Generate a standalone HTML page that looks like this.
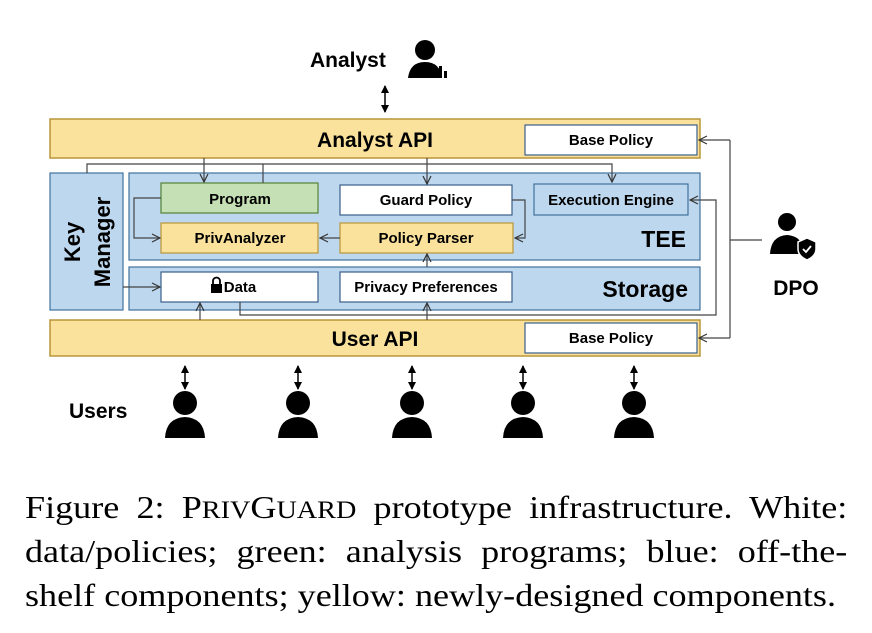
<!DOCTYPE html>
<html><head><style>
body{margin:0;width:872px;height:633px;background:#fff;overflow:hidden}
.cap{position:absolute;left:25px;width:729px;font-family:"Liberation Serif",serif;font-size:32px;line-height:44px;color:#000;white-space:nowrap;transform:scaleX(1.128);transform-origin:0 0}
.j{text-align:justify;text-align-last:justify;white-space:normal}
</style></head><body>
<svg width="872" height="480" style="position:absolute;left:0;top:0" font-family="Liberation Sans, sans-serif" font-weight="bold">
<defs>
<marker id="a" markerWidth="10" markerHeight="10" refX="9" refY="5" orient="auto" markerUnits="userSpaceOnUse"><path d="M1,1 L9,5 L1,9" fill="none" stroke="#333" stroke-width="1.2"/></marker>
<marker id="t" markerWidth="8" markerHeight="8" refX="7" refY="4" orient="auto-start-reverse" markerUnits="userSpaceOnUse"><path d="M0,0 L8,4 L0,8z" fill="#000"/></marker>
</defs>
<text x="310" y="67" font-size="21">Analyst</text>
<g fill="#000"><circle cx="425" cy="50" r="10"/><path d="M408,78 Q410,62 425,62 Q440,62 442,78z"/><rect x="434" y="70" width="3" height="8"/><rect x="439" y="66" width="3" height="12"/><rect x="444" y="71" width="3" height="7"/></g>
<line x1="385" y1="86" x2="385" y2="112" stroke="#000" stroke-width="1.5" marker-end="url(#t)" marker-start="url(#t)"/>
<rect x="50" y="119" width="650" height="39" fill="#fbe29c" stroke="#b8963a" stroke-width="1.5"/>
<text x="375" y="147" font-size="21" text-anchor="middle">Analyst API</text>
<rect x="525" y="125" width="172" height="30" fill="#fff" stroke="#3a5f8a" stroke-width="1.2"/>
<text x="611" y="145" font-size="15" text-anchor="middle">Base Policy</text>
<rect x="50" y="173" width="73" height="137" fill="#bdd7ee" stroke="#41719c" stroke-width="1.2"/>
<text transform="translate(80,242) rotate(-90)" font-size="22" text-anchor="middle">Key</text>
<text transform="translate(110,242) rotate(-90)" font-size="22" text-anchor="middle">Manager</text>
<rect x="129" y="173" width="571" height="87" fill="#bdd7ee" stroke="#41719c" stroke-width="1.2"/>
<rect x="129" y="267" width="571" height="43" fill="#bdd7ee" stroke="#41719c" stroke-width="1.2"/>
<text x="686" y="247" font-size="23" text-anchor="end">TEE</text>
<text x="688" y="297" font-size="23" text-anchor="end">Storage</text>
<rect x="161" y="183" width="157" height="30" fill="#c5e0b4" stroke="#548235" stroke-width="1.2"/>
<text x="240" y="204" font-size="15" text-anchor="middle">Program</text>
<rect x="340" y="185" width="172" height="30" fill="#fff" stroke="#3a5f8a" stroke-width="1.2"/>
<text x="426" y="205" font-size="15" text-anchor="middle">Guard Policy</text>
<rect x="534" y="184" width="154" height="31" fill="#bdd7ee" stroke="#41719c" stroke-width="1.2"/>
<text x="611" y="205" font-size="15" text-anchor="middle">Execution Engine</text>
<rect x="161" y="223" width="157" height="30" fill="#fbe29c" stroke="#b8963a" stroke-width="1.2"/>
<text x="240" y="243" font-size="15" text-anchor="middle">PrivAnalyzer</text>
<rect x="340" y="223" width="173" height="30" fill="#fbe29c" stroke="#b8963a" stroke-width="1.2"/>
<text x="426" y="243" font-size="15" text-anchor="middle">Policy Parser</text>
<rect x="161" y="272" width="157" height="30" fill="#fff" stroke="#3a5f8a" stroke-width="1.2"/>
<text x="240" y="292" font-size="15" text-anchor="middle">Data</text>
<g fill="#000"><rect x="211" y="284" width="11" height="9"/><path d="M213,284 v-3 a3.5,3.5 0 0 1 7,0 v3" fill="none" stroke="#000" stroke-width="1.8"/></g>
<rect x="340" y="272" width="172" height="30" fill="#fff" stroke="#3a5f8a" stroke-width="1.2"/>
<text x="426" y="292" font-size="15" text-anchor="middle">Privacy Preferences</text>
<rect x="50" y="320" width="650" height="36" fill="#fbe29c" stroke="#b8963a" stroke-width="1.5"/>
<text x="375" y="346" font-size="21" text-anchor="middle">User API</text>
<rect x="525" y="323" width="172" height="30" fill="#fff" stroke="#3a5f8a" stroke-width="1.2"/>
<text x="611" y="343" font-size="15" text-anchor="middle">Base Policy</text>
<g fill="none" stroke="#444" stroke-width="1.2">
<polyline points="87,173 87,164 612,164 612,182" marker-end="url(#a)"/>
<line x1="204" y1="158" x2="204" y2="182" marker-end="url(#a)"/>
<line x1="427" y1="158" x2="427" y2="184" marker-end="url(#a)"/>
<line x1="263" y1="183" x2="263" y2="164"/>
<polyline points="161,198 134,198 134,238 160,238" marker-end="url(#a)"/>
<line x1="340" y1="238" x2="320" y2="238" marker-end="url(#a)"/>
<polyline points="512,200 525,200 525,238 515,238" marker-end="url(#a)"/>
<line x1="427" y1="267" x2="427" y2="254" marker-end="url(#a)"/>
<line x1="123" y1="287" x2="160" y2="287" marker-end="url(#a)"/>
<line x1="200" y1="320" x2="200" y2="303" marker-end="url(#a)"/>
<line x1="427" y1="320" x2="427" y2="303" marker-end="url(#a)"/>
<polyline points="240,302 240,315 716,315 716,200 690,200" marker-end="url(#a)"/>
<polyline points="730,140 730,338"/>
<line x1="730" y1="140" x2="699" y2="140" marker-end="url(#a)"/>
<line x1="730" y1="338" x2="699" y2="338" marker-end="url(#a)"/>
<line x1="730" y1="240" x2="762" y2="240"/>
</g>
<g fill="#000"><circle cx="787" cy="222" r="9"/><path d="M770,254 Q771,236 787,235 Q800,236 802,246 L802,254z"/></g>
<path d="M807,238 l9,4 v7 q0,7 -9,11 q-9,-4 -9,-11 v-7z" fill="#000" stroke="#fff" stroke-width="1.5"/>
<path d="M803,249 l3,3 l5,-6" fill="none" stroke="#fff" stroke-width="1.8"/>
<text x="796" y="295" font-size="21" text-anchor="middle">DPO</text>
<text x="69" y="418" font-size="21">Users</text>
<g fill="#000" stroke="#000" stroke-width="1.5">
<g id="u"><line x1="185" y1="366" x2="185" y2="389" marker-end="url(#t)" marker-start="url(#t)"/><circle cx="185" cy="403" r="12" stroke="none"/><path d="M165,438 Q166,418 185,417 Q204,418 205,438z" stroke="none"/></g>
<use href="#u" x="113"/><use href="#u" x="227"/><use href="#u" x="338"/><use href="#u" x="449"/>
</g>
</svg>
<div class="cap j" style="top:485px;height:44px;overflow:hidden">Figure 2: P<span style="font-size:25px">RIV</span>G<span style="font-size:25px">UARD</span> prototype infrastructure. White:</div>
<div class="cap j" style="top:529px;height:44px;overflow:hidden">data/policies; green: analysis programs; blue: off-the-</div>
<div class="cap" style="top:573px">shelf components; yellow: newly-designed components.</div>
</body></html>
